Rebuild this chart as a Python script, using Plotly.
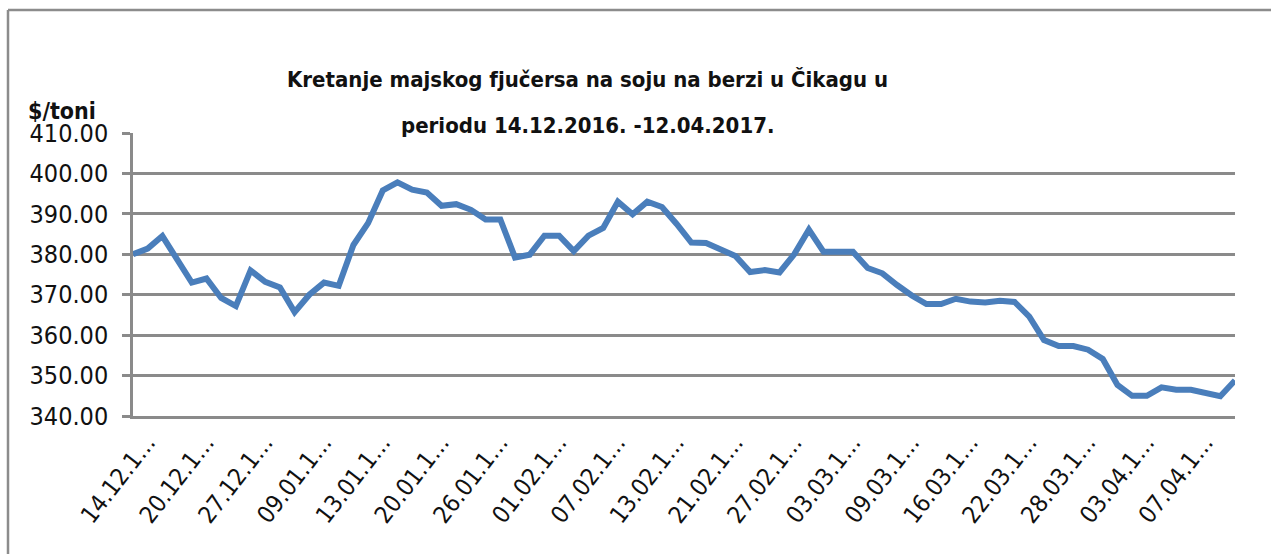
import plotly.graph_objects as go

# datumi trgovanja (dd.mm.yy) i cijena majskog fjučersa na soju, $/toni
dates = ["14.12.16", "15.12.16", "16.12.16", "19.12.16", "20.12.16", "21.12.16",
         "22.12.16", "23.12.16", "27.12.16", "28.12.16", "29.12.16", "30.12.16",
         "09.01.17", "10.01.17", "11.01.17", "12.01.17", "13.01.17", "17.01.17",
         "18.01.17", "19.01.17", "20.01.17", "23.01.17", "24.01.17", "25.01.17",
         "26.01.17", "27.01.17", "30.01.17", "31.01.17", "01.02.17", "02.02.17",
         "03.02.17", "06.02.17", "07.02.17", "08.02.17", "09.02.17", "10.02.17",
         "13.02.17", "14.02.17", "15.02.17", "16.02.17", "21.02.17", "22.02.17",
         "23.02.17", "24.02.17", "27.02.17", "28.02.17", "01.03.17", "02.03.17",
         "03.03.17", "06.03.17", "07.03.17", "08.03.17", "09.03.17", "10.03.17",
         "13.03.17", "14.03.17", "16.03.17", "17.03.17", "20.03.17", "21.03.17",
         "22.03.17", "23.03.17", "24.03.17", "27.03.17", "28.03.17", "29.03.17",
         "30.03.17", "31.03.17", "03.04.17", "04.04.17", "05.04.17", "06.04.17",
         "07.04.17", "10.04.17", "11.04.17", "12.04.17"]

prices = [380.0, 381.4, 384.5, 378.8, 373.0, 374.0, 369.2, 367.2, 376.0, 373.2,
          371.8, 365.7, 370.0, 373.0, 372.2, 382.3, 387.7, 395.8, 397.8, 396.0,
          395.3, 392.0, 392.4, 391.0, 388.6, 388.6, 379.2, 379.9, 384.6, 384.6,
          380.8, 384.6, 386.5, 393.0, 389.9, 393.0, 391.7, 387.5, 382.9, 382.8,
          381.0, 379.6, 375.6, 376.1, 375.5, 380.0, 386.1, 380.6, 380.6, 380.6,
          376.6, 375.3, 372.4, 369.8, 367.7, 367.7, 369.0, 368.3, 368.1, 368.5,
          368.2, 364.6, 358.8, 357.3, 357.3, 356.4, 354.1, 347.7, 345.0, 345.0,
          347.1, 346.5, 346.5, 345.7, 344.9, 348.8]

# svaki 4. datum na osi, skraćen kao u Excelu
tick_dates = dates[::4]
tick_text = [d[:7] + "…" for d in tick_dates]

y_ticks = [340, 350, 360, 370, 380, 390, 400, 410]

# body margina se gasi u post_script-u, pa figura pokriva cijeli prozor
W, H = 1271, 554
L, T = 133, 133
R = W - 1235
B = H - 416
pw, ph = W - L - R, H - T - B

def px(x):
    return (x - L) / pw

def py(y):
    return (H - B - y) / ph

narrow = "DejaVu Sans Condensed, Liberation Sans Narrow, sans-serif"
grid = "#8a8a8a"
frame = dict(color="#8c8c8c", width=2.5)

fig = go.Figure(go.Scatter(
    x=dates, y=prices, mode="lines",
    line=dict(color="#4a7ebb", width=6),
    hoverinfo="x+y",
))

fig.update_layout(
    width=W, height=H,
    margin=dict(l=L, r=R, t=T, b=B, autoexpand=False),
    paper_bgcolor="white", plot_bgcolor="white",
    showlegend=False,
    xaxis=dict(
        type="category",
        tickmode="array", tickvals=tick_dates, ticktext=tick_text,
        tickangle=-52, ticklabelshift=14,
        tickfont=dict(family=narrow, size=24, color="#111"),
        showgrid=False, showline=True, linecolor=grid, linewidth=2.5,
        ticks="", zeroline=False,
    ),
    yaxis=dict(
        range=[340, 410], tickvals=y_ticks, tickformat=".2f",
        tickfont=dict(family=narrow, size=25, color="#111"),
        showgrid=True, gridcolor=grid, gridwidth=2.5,
        showline=True, linecolor=grid, linewidth=2.5,
        ticks="outside", ticklen=8, tickwidth=2.5, tickcolor=grid,
        ticklabelstandoff=9,
        zeroline=False,
    ),
    # okvir grafikona: gornja i lijeva ivica
    shapes=[
        dict(type="line", xref="paper", yref="paper",
             x0=px(8), x1=px(1300), y0=py(10), y1=py(10), line=frame),
        dict(type="line", xref="paper", yref="paper",
             x0=px(8), x1=px(8), y0=py(10), y1=py(600), line=frame),
    ],
    annotations=[
        dict(text="<b>Kretanje majskog fjučersa na soju na berzi u Čikagu u</b>",
             xref="paper", yref="paper", x=px(587), y=py(79),
             showarrow=False, xanchor="center", yanchor="middle",
             font=dict(family=narrow, size=22, color="#111")),
        dict(text="<b>periodu 14.12.2016. -12.04.2017.</b>",
             xref="paper", yref="paper", x=px(587), y=py(125),
             showarrow=False, xanchor="center", yanchor="middle",
             font=dict(family=narrow, size=22, color="#111")),
        dict(text="<b>$/toni</b>",
             xref="paper", yref="paper", x=px(62), y=py(111),
             showarrow=False, xanchor="center", yanchor="middle",
             font=dict(family=narrow, size=23, color="#111")),
    ],
)

fig.write_html(
    "out.html",
    config={"displayModeBar": False},
    post_script="document.body.style.margin='0';document.body.style.overflow='hidden';",
)
